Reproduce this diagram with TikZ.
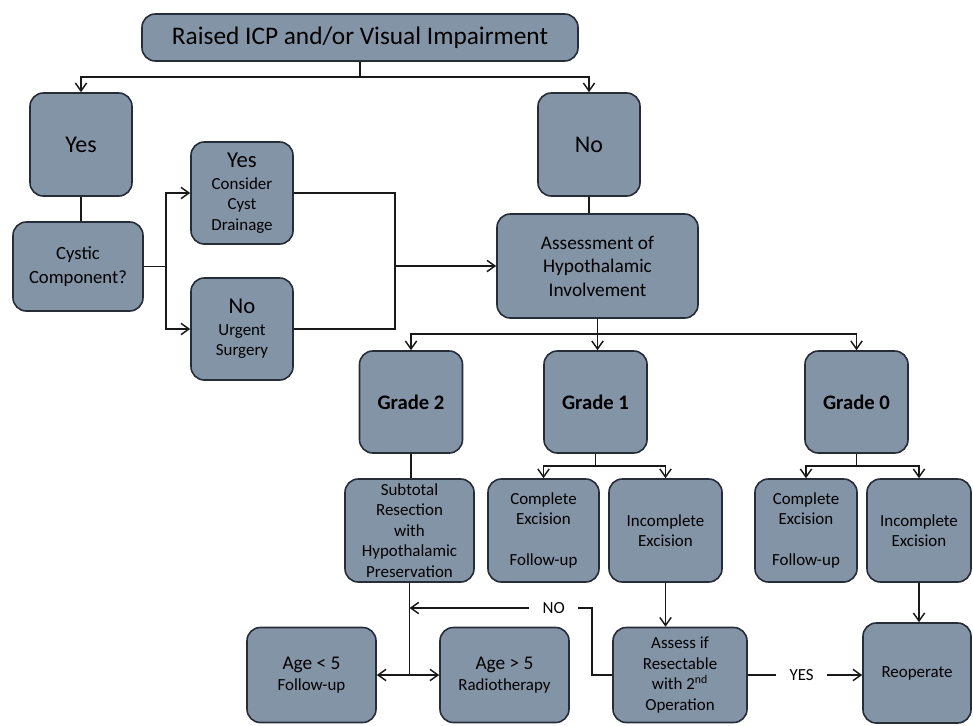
\documentclass[tikz,border=0pt]{standalone}
\usepackage{fontspec}
\setmainfont{Carlito}
\usetikzlibrary{arrows.meta}
\definecolor{boxfill}{HTML}{8494A7}
\definecolor{boxline}{HTML}{262C38}
\newcommand{\fsz}[2]{\fontsize{#1pt}{#2pt}\selectfont}
\tikzset{
  box/.style={draw=boxline, fill=boxfill, line width=1.2pt, rounded corners=10pt,
    align=center, inner sep=0pt, font=\fsz{12.7}{15.3}},
  boxsize/.style 2 args={minimum width=0.75pt*#1, minimum height=0.75pt*#2},
  link/.style={line width=1.1pt, draw=black!90},
  arr/.style={link, -{Straight Barb[length=6pt,width=8.5pt]}},
  lbl/.style={fill=white, inner xsep=10pt, inner ysep=1pt, font=\fsz{12.7}{15.3}}
}

\begin{document}
\begin{tikzpicture}[x=0.75pt,y=-0.75pt]
	\useasboundingbox (0,0) rectangle (973,725);
	% top level
	\node[box, boxsize={436}{47}, font=\fsz{19}{23}] (top) at (360,37.5) {Raised ICP and/or Visual Impairment};
	\node[box, boxsize={102}{103}, font=\fsz{18}{22}] (yes) at (81,144.5) {Yes};
	\node[box, boxsize={102}{103}, font=\fsz{18}{22}] (no) at (589,144.5) {No};
	% cystic branch
	\node[box, boxsize={130}{89}, font=\fsz{14}{17.5}] (cystic) at (78,266.5) {Cystic\\Component?};
	\node[box, boxsize={102}{102}] (yes2) at (242,193) {{\fsz{17}{20}Yes}\\[1pt]Consider\\Cyst\\Drainage};
	\node[box, boxsize={102}{102}] (no2) at (242,329) {{\fsz{17}{20}No}\\[1pt]Urgent\\Surgery};
	\node[box, boxsize={201}{104}, font=\fsz{14.5}{17.6}] (assessment) at (597.5,266) {Assessment of\\Hypothalamic\\Involvement};
	% grades
	\node[box, boxsize={103}{102}, font=\bfseries\fsz{15.5}{19}] (grade2) at (411,402) {Grade 2};
	\node[box, boxsize={103}{102}, font=\bfseries\fsz{15.5}{19}] (grade1) at (595.5,402) {Grade 1};
	\node[box, boxsize={103}{102}, font=\bfseries\fsz{15.5}{19}] (grade0) at (856.5,402) {Grade 0};
	% outcomes
	\node[box, boxsize={129}{103}] (subtotal) at (409.5,530.5) {Subtotal\\Resection\\with\\Hypothalamic\\Preservation};
	\node[box, boxsize={111}{103}] (comp1) at (543.5,530.5) {Complete\\Excision\\[15.3pt]Follow-up};
	\node[box, boxsize={113}{103}] (incomp1) at (665.5,530.5) {Incomplete\\Excision};
	\node[box, boxsize={102}{103}] (comp0) at (806,530.5) {Complete\\Excision\\[15.3pt]Follow-up};
	\node[box, boxsize={104}{103}] (incomp0) at (919,530.5) {Incomplete\\Excision};
	% bottom row
	\node[box, boxsize={129}{95}] (age1) at (311.5,675) {{\fsz{14.5}{17}Age < 5}\\Follow-up};
	\node[box, boxsize={129}{95}] (age2) at (504.5,675) {{\fsz{14.5}{17}Age > 5}\\Radiotherapy};
	\node[box, boxsize={134}{95}] (assess) at (680,675) {Assess if\\Resectable\\with 2\textsuperscript{nd}\\Operation};
	\node[box, boxsize={108}{100}] (reop) at (917,673) {Reoperate};

	\coordinate (topsplit) at (360,77);
	\coordinate (cysplit) at (166,266.5);
	\coordinate (merge) at (395,266);
	\coordinate (gradesplit) at (597.5,334);
	\coordinate (g1split) at (595.5,466);
	\coordinate (g0split) at (856.5,466);
	\coordinate (agesplit) at (409.5,675);
	\coordinate (nobend) at (592,608);
	\coordinate (nojoin) at (409.5,608);

	\draw[link] (top.south) -- (topsplit);
	\draw[arr] (topsplit) -| (yes.north);
	\draw[arr] (topsplit) -| (no.north);
	\draw[link] (yes.south) -- (yes.south |- cystic.north);
	\draw[link] (cystic.east) -- (cysplit);
	\draw[arr] (cysplit) |- (yes2.west);
	\draw[arr] (cysplit) |- (no2.west);
	\draw[link] (yes2.east) -| (merge);
	\draw[link] (no2.east) -| (merge);
	\draw[arr] (merge) -- (merge -| assessment.west);
	\draw[link] (no.south) -- (no.south |- assessment.north);
	\draw[arr] (assessment.south) -- (assessment.south |- grade1.north);
	\draw[arr] (gradesplit) -| (grade2.north);
	\draw[arr] (gradesplit) -| (grade0.north);
	\draw[link] (grade2.south) -- (grade2.south |- subtotal.north);
	\draw[link] (grade1.south) -- (g1split);
	\draw[arr] (g1split) -| (comp1.north);
	\draw[arr] (g1split) -| (incomp1.north);
	\draw[link] (grade0.south) -- (g0split);
	\draw[arr] (g0split) -| (comp0.north);
	\draw[arr] (g0split) -| (incomp0.north);
	\draw[link] (subtotal.south) -- (agesplit);
	\draw[arr] (agesplit) -- (age1.east);
	\draw[arr] (agesplit) -- (age2.west);
	\draw[arr] (incomp1.south) -- (incomp1.south |- assess.north);
	\draw[arr] (incomp0.south) -- (incomp0.south |- reop.north);
	\draw[arr] (assess.east) -- node[lbl, pos=0.47]{YES} (assess.east -| reop.west);
	\draw[arr] (assess.west) -| (nobend) -- node[lbl, pos=0.21]{NO} (nojoin);
\end{tikzpicture}
\end{document}
